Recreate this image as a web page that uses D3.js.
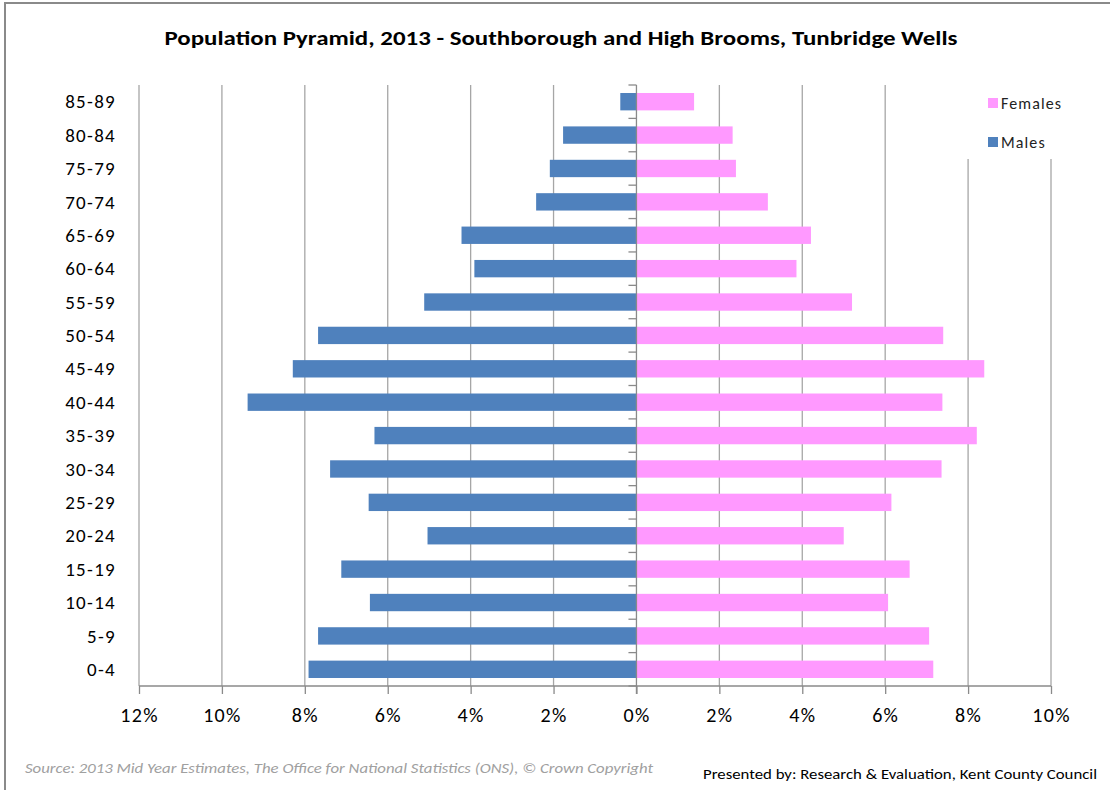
<!DOCTYPE html>
<html>
<head>
<meta charset="utf-8">
<script src="https://cdn.jsdelivr.net/npm/d3@7"></script>
<style>
  body { margin: 0; background: #fff; }
  text { font-family: Carlito, Lato, "Open Sans", sans-serif; }
</style>
</head>
<body>
<div id="piramide"></div>
<script>
// age groups, top to bottom as in the chart
var grupos = ["85-89", "80-84", "75-79", "70-74", "65-69", "60-64", "55-59", "50-54", "45-49",
              "40-44", "35-39", "30-34", "25-29", "20-24", "15-19", "10-14", "5-9", "0-4"];

// share of total population, %
var hombres = [0.39, 1.77, 2.09, 2.42, 4.22, 3.91, 5.12, 7.68, 8.29,
               9.38, 6.32, 7.39, 6.46, 5.04, 7.12, 6.43, 7.68, 7.91];
var mujeres = [1.39, 2.32, 2.40, 3.17, 4.21, 3.86, 5.20, 7.40, 8.39,
               7.38, 8.21, 7.36, 6.15, 5.00, 6.59, 6.07, 7.06, 7.16];

var ticksX = [-12, -10, -8, -6, -4, -2, 0, 2, 4, 6, 8, 10];
var series = ["Females", "Males"];
var colores = ["#FF99FF", "#4F81BD"];

var titulo = "Population Pyramid, 2013 - Southborough and High Brooms, Tunbridge Wells";
var fuente = "Source: 2013  Mid Year Estimates, The Office for National Statistics (ONS), \u00A9 Crown Copyright";
var autor = "Presented by: Research & Evaluation, Kent County Council";

var w = 1110,
    h = 790;

var margin = { top: 85, right: 59, bottom: 104, left: 139 };

var svg = d3.select("#piramide")
    .append("svg")
    .attr("width", w)
    .attr("height", h);

// marco
svg.append("rect")
    .attr("x", 5).attr("y", 3)
    .attr("width", 1130).attr("height", 820)
    .attr("fill", "#fff")
    .attr("stroke", "#8a8a8a")
    .attr("stroke-width", 2);

var x = d3.scaleLinear()
    .domain([-12, 10])
    .range([margin.left, w - margin.right]);

var y = d3.scaleBand()
    .domain(grupos)
    .range([margin.top, h - margin.bottom])
    .paddingInner(0.48)
    .paddingOuter(0.24);

var y0 = margin.top,
    y1 = h - margin.bottom;

// gridlines
svg.append("g")
    .selectAll("line")
    .data(ticksX.filter(function(d) { return d != 0; }))
    .enter()
    .append("line")
    .attr("x1", function(d) { return x(d); })
    .attr("x2", function(d) { return x(d); })
    .attr("y1", y0)
    .attr("y2", y1)
    .attr("stroke", "#a6a6a6")
    .attr("stroke-width", 1.3);

// barras hombres (izquierda)
svg.append("g")
    .selectAll("rect")
    .data(grupos)
    .enter()
    .append("rect")
    .attr("x", function(d, i) { return x(-hombres[i]); })
    .attr("y", function(d) { return y(d); })
    .attr("width", function(d, i) { return x(0) - x(-hombres[i]); })
    .attr("height", y.bandwidth())
    .attr("fill", colores[1]);

// barras mujeres (derecha)
svg.append("g")
    .selectAll("rect")
    .data(grupos)
    .enter()
    .append("rect")
    .attr("x", x(0))
    .attr("y", function(d) { return y(d); })
    .attr("width", function(d, i) { return x(mujeres[i]) - x(0); })
    .attr("height", y.bandwidth())
    .attr("fill", colores[0]);

// eje vertical en 0 con marcas entre grupos
var bordes = grupos.map(function(d) { return y(d) - y.step() * y.paddingInner() / 2; });
bordes.push(y1);

var ejeY = svg.append("g");
ejeY.append("line")
    .attr("x1", x(0)).attr("x2", x(0))
    .attr("y1", y0).attr("y2", y1 + 8)
    .attr("stroke", "#8a8a8a")
    .attr("stroke-width", 1.3);
ejeY.selectAll(".marca")
    .data(bordes)
    .enter()
    .append("line")
    .attr("class", "marca")
    .attr("x1", x(0) - 8).attr("x2", x(0))
    .attr("y1", function(d) { return d; })
    .attr("y2", function(d) { return d; })
    .attr("stroke", "#8a8a8a")
    .attr("stroke-width", 1.3);

// etiquetas de edad
svg.append("g")
    .selectAll("text")
    .data(grupos)
    .enter()
    .append("text")
    .attr("x", 116)
    .attr("y", function(d) { return y(d) + y.bandwidth() / 2; })
    .attr("dy", "0.35em")
    .style("text-anchor", "end")
    .style("font-size", "19px")
    .style("letter-spacing", "1.3px")
    .attr("fill", "#000")
    .text(function(d) { return d; });

// eje horizontal
var ejeX = svg.append("g")
    .attr("transform", "translate(0," + y1 + ")")
    .call(d3.axisBottom(x)
        .tickValues(ticksX)
        .tickSize(8)
        .tickPadding(14)
        .tickFormat(function(d) { return Math.abs(d) + "%"; }));

ejeX.select(".domain")
    .attr("stroke", "#8a8a8a")
    .attr("stroke-width", 1.3)
    .attr("d", "M" + x(-12) + ",0H" + x(10));
ejeX.selectAll(".tick line")
    .attr("stroke", "#8a8a8a")
    .attr("stroke-width", 1.3);
ejeX.selectAll(".tick text")
    .style("font-size", "20px")
    .style("letter-spacing", "1.3px")
    .style("font-family", "Carlito, Lato, 'Open Sans', sans-serif")
    .attr("fill", "#000");

// Leyenda
var leyenda = svg.append("g");
leyenda.append("rect")
    .attr("x", 955).attr("y", y0 - 2)
    .attr("width", 140).attr("height", 76)
    .attr("fill", "#fff");

leyenda.selectAll(".cuadro")
    .data(series)
    .enter()
    .append("rect")
    .attr("class", "cuadro")
    .attr("x", 988)
    .attr("y", function(d, i) { return 98 + i * 39; })
    .attr("width", 10)
    .attr("height", 10)
    .attr("fill", function(d, i) { return colores[i]; });

leyenda.selectAll(".etiqueta")
    .data(series)
    .enter()
    .append("text")
    .attr("class", "etiqueta")
    .attr("x", 1001)
    .attr("y", function(d, i) { return 103 + i * 39; })
    .attr("dy", "0.35em")
    .style("font-size", "16px")
    .style("letter-spacing", "1.1px")
    .attr("fill", "#222")
    .text(function(d) { return d; });

// titulo
svg.append("text")
    .attr("x", 561)
    .attr("y", 45)
    .style("text-anchor", "middle")
    .style("font-size", "20px")
    .style("font-weight", "bold")
    .attr("textLength", 793)
    .attr("lengthAdjust", "spacingAndGlyphs")
    .attr("fill", "#000")
    .text(titulo);

// notas al pie
svg.append("text")
    .attr("x", 25)
    .attr("y", 773)
    .style("font-size", "14px")
    .style("font-style", "italic")
    .attr("textLength", 628)
    .attr("lengthAdjust", "spacingAndGlyphs")
    .attr("fill", "#a0a0a0")
    .text(fuente);

svg.append("text")
    .attr("x", 703)
    .attr("y", 779)
    .style("font-size", "14px")
    .attr("textLength", 394)
    .attr("lengthAdjust", "spacingAndGlyphs")
    .attr("fill", "#000")
    .text(autor);
</script>
</body>
</html>
